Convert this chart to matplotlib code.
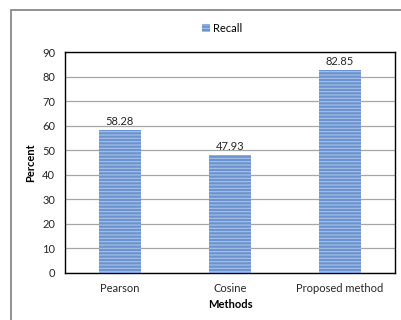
import matplotlib
matplotlib.use("Agg")
import matplotlib.pyplot as plt
from matplotlib.patches import Rectangle

methods = ["Pearson", "Cosine", "Proposed method"]
recall = [58.28, 47.93, 82.85]
yticks = list(range(0, 91, 10))

plt.rcParams["font.family"] = ["Lato", "DejaVu Sans"]
plt.rcParams["hatch.linewidth"] = 0.8

fig = plt.figure(figsize=(4.01, 3.2), dpi=100)
ax = fig.add_axes([0.162, 0.147, 0.823, 0.690])

# outer frame around the chart
fig.patches.append(Rectangle((11 / 401, -0.1), 1.2, 1.1 - 10 / 320,
                             transform=fig.transFigure, fill=False,
                             edgecolor="#7f7f7f", linewidth=1.2))

x = range(len(methods))
bars = ax.bar(x, recall, width=0.39, color="#6a93cf", edgecolor="#a9c2e6",
              linewidth=0, hatch="-----", label="Recall", zorder=3)

for b, v in zip(bars, recall):
    ax.text(b.get_x() + b.get_width() / 2, v + 1.2, f"{v:.2f}",
            ha="center", va="bottom", fontsize=8, color="#262626")

ax.set_ylim(0, 90)
ax.set_xlim(-0.5, 2.5)
ax.set_yticks(yticks)
ax.set_xticks(list(x))
ax.set_xticklabels(methods)
ax.tick_params(axis="both", length=0, labelsize=8, colors="#262626", pad=7)
ax.yaxis.grid(True, color="#a6a6a6", linewidth=0.9, zorder=0)
for s in ax.spines.values():
    s.set_color("#000000")
    s.set_linewidth(1.0)

ax.set_xlabel("Methods", fontsize=8, fontweight="bold", labelpad=4)
ax.set_ylabel("Percent", fontsize=8, fontweight="bold", labelpad=4)

fig.legend(handles=[bars], labels=["Recall"], loc="center",
           bbox_to_anchor=(0.555, 0.912), frameon=False, fontsize=8,
           handlelength=0.7, handleheight=0.7, handletextpad=0.3)

fig.savefig("out.png", dpi=100)
